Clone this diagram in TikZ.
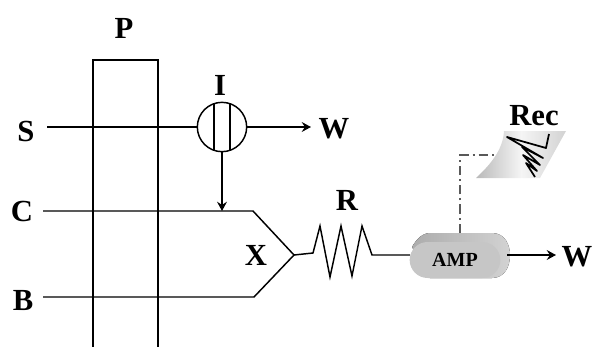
\documentclass[tikz,border=0pt]{standalone}
\usepackage{fontspec}
\setmainfont{Liberation Serif}
\usetikzlibrary{arrows.meta,calc,positioning,shapes.geometric,shapes.misc}
\tikzset{
lbl/.style={font=\fontsize{23}{24}\selectfont\bfseries,inner sep=0pt},
wire/.style={black,line width=1.1pt},
tip/.style={wire,-{Stealth[length=7pt,width=7.5pt,inset=2.5pt]}}
}
\begin{document}
\begin{tikzpicture}[x=0.75pt,y=-0.75pt]
\useasboundingbox (0,0) rectangle (594,347);

\node[lbl] (P) at (124,28) {P};
\node[lbl] (S) at (26,131) {S};
\node[lbl] (C) at (22,211) {C};
\node[lbl] (B) at (23,301) {B};
\node[lbl] (I) at (220,85) {I};
\node[lbl] (W1) at (334,129) {W};
\node[lbl] (X) at (256,255) {X};
\node[lbl] (R) at (347,200) {R};
\node[lbl] (W2) at (577,257) {W};
\node[lbl] (Rec) at (534,116) {Rec};

% column
\draw[wire] (93,347)--(93,60)--(158,60)--(158,347);

% flow lines
\coordinate (s0) at (47,127);
\coordinate (w1) at (311,127);
\coordinate (c0) at (43,211);
\coordinate (b0) at (43,297);
\coordinate (xtop) at (253,211);
\coordinate (xbot) at (254,297);
\coordinate (xtip) at (294,255);
\coordinate (jn) at (222,211);

\node[circle,draw,line width=1.1pt,minimum size=37pt,inner sep=0pt] (ion) at (222,127) {};
\draw[wire] (214,103.5)--(214,150.5);
\draw[wire] (230,103.5)--(230,150.5);
\draw[wire] (s0)--(ion.west);
\draw[tip] (ion.east)--(w1);
\draw[tip] (ion.south)--(jn);
\draw[wire] (c0)--(xtop)--(xtip)--(xbot)--(b0);

% resistor
\coordinate (r1) at (410,255);
\draw[wire] (xtip)--(313,253)--(320,226)--(330,277)--(341,226)--(352,276)--(362,226)--(372,255)--(r1);

% amplifier
\fill[left color=gray!65,right color=gray!35] (412,247) .. controls (416,240) and (422,233) .. (430,233)
  -- (492,233) .. controls (505,233) and (510,245) .. (510,255)
  .. controls (510,266) and (505,278) .. (492,278) -- (430,278) -- cycle;
\node[rounded rectangle,fill=gray!45,minimum width=68pt,minimum height=27pt,inner sep=0pt] (amp) at (455,260)
  {\fontsize{15}{16}\selectfont\bfseries AMP};
\coordinate (w2) at (556,255);
\coordinate (a2) at (507,255);
\draw[tip] (a2)--(w2);

% recorder
\shade[left color=gray!55,right color=gray!35,middle color=gray!8] (504,131)--(566,131)--(540,178)--(476,178)
  .. controls (490,165) and (503,150) .. cycle;
\coordinate (a1) at (460,233);
\coordinate (a3) at (460,155);
\coordinate (p1) at (497,155);
\draw[gray!70!black,line width=1.1pt,dash pattern=on 7pt off 3pt on 1.5pt off 3pt] (a1)--(a3)--(p1);
\draw[black,line width=1.3pt,line join=round] plot coordinates {
	(549,134)
	(546,148)
	(507,137)
	(543,158)
	(522,147)
	(540,165)
	(523,155)
	(537,171)
	(526,163)
	(535,177)
};

\end{tikzpicture}
\end{document}
